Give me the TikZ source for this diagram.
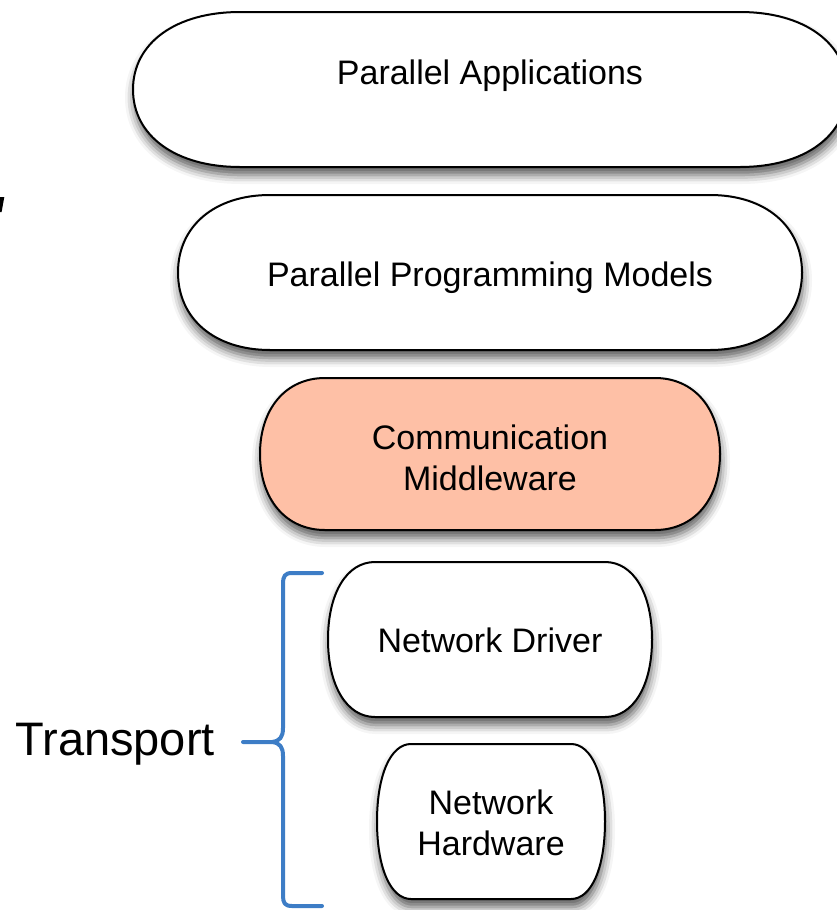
\documentclass[tikz,border=0pt]{standalone}
\usepackage{fontspec}
\setmainfont{Liberation Sans}
\usetikzlibrary{shadows.blur}

\definecolor{middlefill}{RGB}{254,192,166}
\definecolor{braceblue}{RGB}{61,125,198}

\tikzset{
  pill/.style={draw=black, line width=2pt, fill=white,
    blur shadow={shadow xshift=1pt, shadow yshift=-8pt,
                 shadow blur radius=9pt, shadow opacity=65}},
  boxtext/.style={font=\fontsize{34}{41}\selectfont, inner sep=0pt, align=center},
  bigtext/.style={font=\fontsize{47}{56}\selectfont, inner sep=0pt},
  brace/.style={draw=braceblue, line width=4pt, line cap=round, line join=round},
}

% Layer outline with rounded, slightly squarish ends.
% [#1] extra style, #2 centre x, #3 centre y (measured downwards),
% #4 width, #5 height, #6 horizontal end radius
\newcommand\pillshape[6][]{%
  \pgfmathsetmacro\pL{#2-#4/2}%
  \pgfmathsetmacro\pR{#2+#4/2}%
  \pgfmathsetmacro\pT{-#3+#5/2}%
  \pgfmathsetmacro\pB{-#3-#5/2}%
  \pgfmathsetmacro\pM{-#3}%
  \pgfmathsetmacro\pk{0.6}%
  \pgfmathsetmacro\pdx{\pk*#6}%
  \pgfmathsetmacro\pdy{\pk*#5/2}%
  \path[pill,#1]
    (\pR-#6,\pT) .. controls (\pR-#6+\pdx,\pT) and (\pR,\pM+\pdy) .. (\pR,\pM)
    .. controls (\pR,\pM-\pdy) and (\pR-#6+\pdx,\pB) .. (\pR-#6,\pB)
    -- (\pL+#6,\pB) .. controls (\pL+#6-\pdx,\pB) and (\pL,\pM-\pdy) .. (\pL,\pM)
    .. controls (\pL,\pM+\pdy) and (\pL+#6-\pdx,\pT) .. (\pL+#6,\pT)
    -- cycle;}

\begin{document}
\begin{tikzpicture}[x=1pt, y=1pt]
  \useasboundingbox (0,0) rectangle (837,-910);
  \begin{scope}
    \clip (0,0) rectangle (837,-910);

    % layer shapes
    \pillshape{490}{89.5}{714}{155}{107}
    \pillshape{490}{272.5}{624}{155}{92}
    \pillshape[fill=middlefill]{490}{454}{460}{152}{65}
    \pillshape{490}{639.5}{324}{155}{47}
    \pillshape{491}{821.5}{228}{155}{34}

    % stray stroke at the left edge
    \fill (0,-197) -- (4.3,-197) -- (1.6,-212) -- (0,-212) -- cycle;
  \end{scope}

  % layer labels
  \node[boxtext, anchor=base] (apps) at (490,-84) {Parallel Applications};
  \node[boxtext, anchor=base] (models) at (490,-286) {Parallel Programming Models};
  \node[boxtext] (middleware) at (490,-457.5) {Communication\\Middleware};
  \node[boxtext, anchor=base] (driver) at (490,-652) {Network Driver};
  \node[boxtext] (hardware) at (491,-823) {Network\\Hardware};

  % transport brace
  \coordinate (btop) at (322,-573);
  \coordinate (bmid) at (272,-742);
  \coordinate (btip) at (243,-742);
  \coordinate (bbot) at (322,-906);
  \draw[brace] (btop) -- (292,-573) .. controls (285,-573) and (283,-576) .. (283,-584)
    -- (283,-728) .. controls (283,-737) and (280,-741) .. (bmid) -- (btip);
  \draw[brace] (bmid) .. controls (280,-743) and (283,-747) .. (283,-756)
    -- (283,-896) .. controls (283,-903) and (285,-906) .. (292,-906) -- (bbot);

  \node[bigtext, anchor=base east] (transport) at (215,-755) {Transport};
\end{tikzpicture}
\end{document}
